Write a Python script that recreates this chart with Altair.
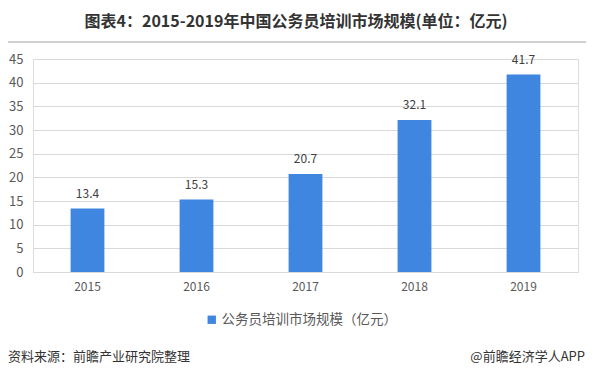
import altair as alt
import pandas as pd

years = ["2015", "2016", "2017", "2018", "2019"]
values = [13.4, 15.3, 20.7, 32.1, 41.7]
series_name = "公务员培训市场规模（亿元）"
title_text = "图表4：2015-2019年中国公务员培训市场规模(单位：亿元)"
source_text = "资料来源：前瞻产业研究院整理"
brand_text = "@前瞻经济学人APP"
y_ticks = [0, 5, 10, 15, 20, 25, 30, 35, 40, 45]

FONT = "Noto Sans CJK SC"
BAR = "#3F86E0"

df = pd.DataFrame({"year": years, "value": values, "series": [series_name] * len(years)})

x = alt.X("year:N", title=None, sort=years,
          scale=alt.Scale(paddingInner=0.69, paddingOuter=0.345),
          axis=alt.Axis(labelAngle=0, labelColor="#595959", labelFontSize=12, labelFont=FONT,
                        labelPadding=9, ticks=False, domainColor="#D9D9D9"))
y = alt.Y("value:Q", title=None, scale=alt.Scale(domain=[0, 45], nice=False),
          axis=alt.Axis(values=y_ticks, labelColor="#595959", labelFontSize=13, labelFont=FONT,
                        labelPadding=10, ticks=False, domain=False, gridColor="#D9D9D9",
                        labelOverlap=False))

bars = alt.Chart(df).mark_bar().encode(
    x=x, y=y,
    color=alt.Color("series:N", scale=alt.Scale(range=[BAR]),
                    legend=alt.Legend(title=None, orient="none", legendX=172, legendY=254,
                                      symbolType="square", symbolSize=70, symbolStrokeWidth=0,
                                      labelFont=FONT, labelFontSize=13.5, labelColor="#595959",
                                      labelOffset=3, labelLimit=400))
)

labels = alt.Chart(df).mark_text(baseline="bottom", dy=-8, fontSize=12, font=FONT, color="#404040").encode(
    x=x, y=y, text=alt.Text("value:Q", format=".1f")
)

top_rule = alt.Chart(df).mark_rule(color="#D0D0D0", strokeWidth=1.5).encode(
    x=alt.value(-33), x2=alt.value(553), y=alt.value(-17)
)

foot = pd.DataFrame({"t": [source_text]})
source = alt.Chart(foot).mark_text(align="left", baseline="middle", fontSize=13, font=FONT, color="#333333").encode(
    x=alt.value(-25), y=alt.value(298), text="t:N"
)
foot2 = pd.DataFrame({"t": [brand_text]})
brand = alt.Chart(foot2).mark_text(align="right", baseline="middle", fontSize=13, font=FONT, color="#333333").encode(
    x=alt.value(552), y=alt.value(298), text="t:N"
)
ttl = pd.DataFrame({"t": [title_text]})
title = alt.Chart(ttl).mark_text(align="center", baseline="middle", fontSize=16, fontWeight="bold",
                                 font=FONT, color="#333333").encode(
    x=alt.value(263), y=alt.value(-37), text="t:N"
)

chart = alt.layer(bars, labels, top_rule, source, brand, title).properties(
    width=545, height=213,
    autosize=alt.AutoSizeParams(type="none"),
    padding={"left": 25, "top": 51, "right": 8, "bottom": 95},
).configure_view(stroke=None).configure(background="white")

chart.save("out.html", embed_options={"renderer": "svg", "actions": False})
